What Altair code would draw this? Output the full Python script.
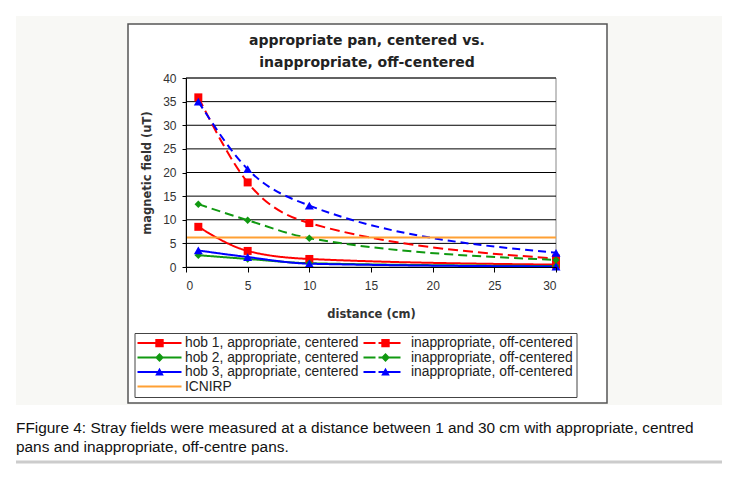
import altair as alt
import pandas as pd

# ---------------- data ----------------
distance = [1, 5, 10, 30]
hob1_app = [8.5, 3.4, 1.7, 0.5]
hob1_inapp = [35.9, 17.9, 9.3, 1.8]
hob2_app = [2.5, 1.7, 0.8, 0.2]
hob2_inapp = [13.3, 9.9, 6.1, 1.5]
hob3_app = [3.5, 2.1, 0.7, 0.1]
hob3_inapp = [35.0, 20.7, 13.0, 3.0]
icnirp_x = [0, 30]
icnirp_y = [6.25, 6.25]

series_names = [
    "hob 1, appropriate, centered",
    "hob 1, inappropriate, off-centered",
    "hob 2, appropriate, centered",
    "hob 2, inappropriate, off-centered",
    "hob 3, appropriate, centered",
    "hob 3, inappropriate, off-centered",
    "ICNIRP",
]
legend_labels = [
    "hob 1, appropriate, centered",
    "inappropriate, off-centered",
    "hob 2, appropriate, centered",
    "inappropriate, off-centered",
    "hob 3, appropriate, centered",
    "inappropriate, off-centered",
    "ICNIRP",
]
series_values = [hob1_app, hob1_inapp, hob2_app, hob2_inapp, hob3_app, hob3_inapp]
series_markers = ["square", "square", "diamond", "diamond", "triangle-up", "triangle-up"]

x_ticks = [0, 5, 10, 15, 20, 25, 30]
y_ticks = [0, 5, 10, 15, 20, 25, 30, 35, 40]

title_lines = ["appropriate pan, centered vs.", "inappropriate, off-centered"]
caption_lines = [
    "FFigure 4: Stray fields were measured at a distance between 1 and 30 cm with appropriate, centred",
    "pans and inappropriate, off-centre pans.",
]

# ---------------- styles ----------------
series_colors = ["#ff0000", "#ff0000", "#119911", "#119911", "#0000ff", "#0000ff", "#ffa033"]
series_dashes = [[1, 0], [10, 5], [1, 0], [9, 5], [1, 0], [8, 5], [1, 0]]
marker_sizes = {"square": 64, "diamond": 56, "triangle-up": 81}

# legend glyphs (line + marker), drawn in pixel units then scaled to the symbol unit
U = 7.0  # pixels per symbol unit (symbolSize = (2*U)^2)


def rect(x0, x1, h):
    return f"M{x0/U:.3f},{-h/U:.3f}H{x1/U:.3f}V{h/U:.3f}H{x0/U:.3f}Z"


LINE = rect(-22, 22, 1)
DASHED = rect(-22, -10, 1) + " " + rect(-7, 15, 1)
SQ = rect(-4.2, 4.2, 4.2)
DI = f"M0,{-4.4/U:.3f}L{4.4/U:.3f},0L0,{4.4/U:.3f}L{-4.4/U:.3f},0Z"
TR = f"M0,{-4.3/U:.3f}L{4.3/U:.3f},{3.4/U:.3f}L{-4.3/U:.3f},{3.4/U:.3f}Z"
legend_paths = [
    LINE + " " + SQ,
    DASHED + " " + SQ,
    LINE + " " + DI,
    DASHED + " " + DI,
    LINE + " " + TR,
    DASHED + " " + TR,
    LINE,
]

rows = []
for name, vals, mk in zip(series_names[:6], series_values, series_markers):
    for d, v in zip(distance, vals):
        rows.append({"series": name, "distance": d, "field": v, "marker": mk})
for d, v in zip(icnirp_x, icnirp_y):
    rows.append({"series": "ICNIRP", "distance": d, "field": v, "marker": "none"})
df = pd.DataFrame(rows)
one = pd.DataFrame({"a": [0]})

FONT = "Liberation Sans"
BOLD = "DejaVu Sans"

xs = alt.Scale(domain=[0, 30], nice=False)
ys = alt.Scale(domain=[0, 40], nice=False)
xaxis = alt.Axis(values=x_ticks, title="distance (cm)", grid=False, domainColor="#000",
                 tickColor="#000", tickSize=5, labelPadding=8, labelFont=FONT,
                 labelFontSize=12, labelColor="#333", titleFont=BOLD, titleFontSize=11.5,
                 titleFontWeight="bold", titleColor="#333", titlePadding=17, zindex=1)
yaxis = alt.Axis(values=y_ticks, title="magnetic field (uT)", grid=False, domainColor="#000",
                 tickColor="#000", tickSize=4, labelPadding=6, labelFont=FONT,
                 labelFontSize=12, labelColor="#333", titleFont=BOLD, titleFontSize=11.5,
                 titleFontWeight="bold", titleColor="#333", titlePadding=10, zindex=1)
X = alt.X("distance:Q", scale=xs, axis=xaxis, title="distance (cm)")
Y = alt.Y("field:Q", scale=ys, axis=yaxis, title="magnetic field (uT)")

label_map = "{" + ", ".join(f"'{k}': '{v}'" for k, v in zip(series_names, legend_labels)) + "}"
label_expr = f"{label_map}[datum.label]"

leg = alt.Legend(title=None, orient="none", legendX=-51.5, legendY=255, columns=2,
                 direction="horizontal", symbolSize=(2 * U) ** 2, symbolStrokeWidth=0,
                 symbolOffset=15, labelOffset=18.5, columnPadding=4, rowPadding=0.5, padding=3,
                 labelFont=FONT, labelFontSize=13.8, labelColor="#222", labelLimit=400,
                 strokeColor="#444", fillColor="white", labelExpr=label_expr, zindex=2)

bg = alt.Chart(one).mark_rect(color="#f8f8f5").encode(
    x=alt.value(-170), x2=alt.value(536), y=alt.value(-62), y2=alt.value(327))
frame = alt.Chart(one).mark_rect(fill="white", stroke="#555", strokeWidth=1.5).encode(
    x=alt.value(-58), x2=alt.value(421), y=alt.value(-54), y2=alt.value(325))
plotbox = alt.Chart(one).mark_rect(fill="white", stroke="#888", strokeWidth=1).encode(
    x=alt.value(0), x2=alt.value(370), y=alt.value(0), y2=alt.value(189))
grid = alt.Chart(pd.DataFrame({"field": y_ticks[1:]})).mark_rule(color="#000", strokeWidth=1).encode(y=Y)

# one line layer per series (constant styles, so no extra scales)
line_layers = []
for name, col, dash in zip(series_names, series_colors, series_dashes):
    line_layers.append(
        alt.Chart(df).transform_filter(alt.datum.series == name).mark_line(
            strokeWidth=2, interpolate="monotone", color=col, strokeDash=dash).encode(x=X, y=Y)
    )

point_layers = []
for name, col, mk in zip(series_names[:6], series_colors, series_markers):
    point_layers.append(
        alt.Chart(df).transform_filter(alt.datum.series == name).mark_point(
            shape=mk, filled=True, opacity=1, size=marker_sizes[mk], strokeWidth=0,
            color=col).encode(x=X, y=Y)
    )

# carries the legend only: its own marks are drawn with zero size
legend_layer = alt.Chart(df).mark_point(filled=True, opacity=1, size=0).encode(
    x=X, y=Y,
    color=alt.Color("series:N", scale=alt.Scale(domain=series_names, range=series_colors), legend=leg),
    shape=alt.Shape("series:N", scale=alt.Scale(domain=series_names, range=legend_paths), legend=leg),
)

title = alt.Chart(one).mark_text(align="center", baseline="middle", font=BOLD, fontSize=14,
                                 fontWeight="bold", color="#222", lineHeight=22,
                                 text=title_lines).encode(x=alt.value(181), y=alt.value(-37))
caption = alt.Chart(one).mark_text(align="left", baseline="middle", font=FONT, fontSize=15.4,
                                   color="#111", lineHeight=19, text=caption_lines).encode(
    x=alt.value(-170), y=alt.value(350))
caprule = alt.Chart(one).mark_rule(color="#cccccc", strokeWidth=3).encode(
    x=alt.value(-170), x2=alt.value(536), y=alt.value(384))

chart = alt.layer(bg, frame, plotbox, grid, *line_layers, *point_layers, legend_layer,
                  title, caption, caprule).properties(
    width=370, height=189,
    autosize=alt.AutoSizeParams(type="none"),
    padding={"left": 178, "top": 70, "right": 166, "bottom": 209},
).configure_view(stroke="transparent").configure(background="white")

chart.save("out.html", embed_options={"renderer": "svg", "actions": False})
